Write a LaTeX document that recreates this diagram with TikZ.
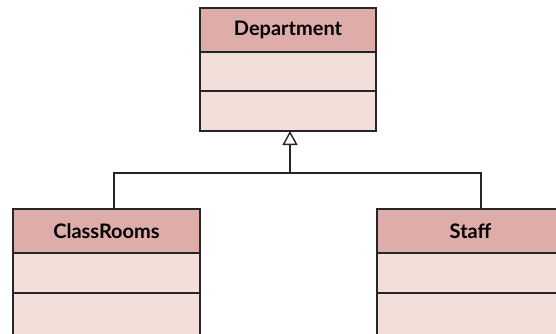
\documentclass[tikz,border=0pt]{standalone}
\usepackage{fontspec}
\setmainfont{Lato}
\usetikzlibrary{arrows.meta}
\definecolor{headfill}{HTML}{DEADAA}
\definecolor{bodyfill}{HTML}{F2DFD9}
\tikzset{
  part/.style={draw=black!85, line width=2.4pt, anchor=north west, inner sep=0pt, outer sep=0pt},
  head/.style={part, fill=headfill, font=\bfseries\fontsize{20}{24}\selectfont},
  body/.style={part, fill=bodyfill},
  link/.style={draw=black!85, line width=2.4pt},
}
\begin{document}
\begin{tikzpicture}[x=1pt,y=-1pt]
  \useasboundingbox (0,0) rectangle (556,333);
  \clip (0,0) rectangle (556,333);
  % Department
  \node[head, minimum width=176pt, minimum height=44pt] (dep) at (200,8) {Department};
  \node[body, minimum width=176pt, minimum height=39pt] (dep2) at (dep.south west) {};
  \node[body, minimum width=176pt, minimum height=40pt] (dep3) at (dep2.south west) {};
  % ClassRooms
  \node[head, minimum width=187pt, minimum height=44pt] (cls) at (13,209) {ClassRooms};
  \node[body, minimum width=187pt, minimum height=40pt] (cls2) at (cls.south west) {};
  \node[body, minimum width=187pt, minimum height=44pt] (cls3) at (cls2.south west) {};
  % Staff
  \node[head, minimum width=187pt, minimum height=44pt] (stf) at (377,209) {Staff};
  \node[body, minimum width=187pt, minimum height=40pt] (stf2) at (stf.south west) {};
  \node[body, minimum width=187pt, minimum height=44pt] (stf3) at (stf2.south west) {};
  % generalization
  \coordinate (j) at (290,173);
  \draw[link] ([xshift=7.5pt]cls.north) |- (j) -| ([xshift=10.5pt]stf.north);
  \draw[link, -{Triangle[open, length=14pt, width=15pt, line width=1.4pt]}] (j) -- ([xshift=2pt]dep3.south);
\end{tikzpicture}
\end{document}
